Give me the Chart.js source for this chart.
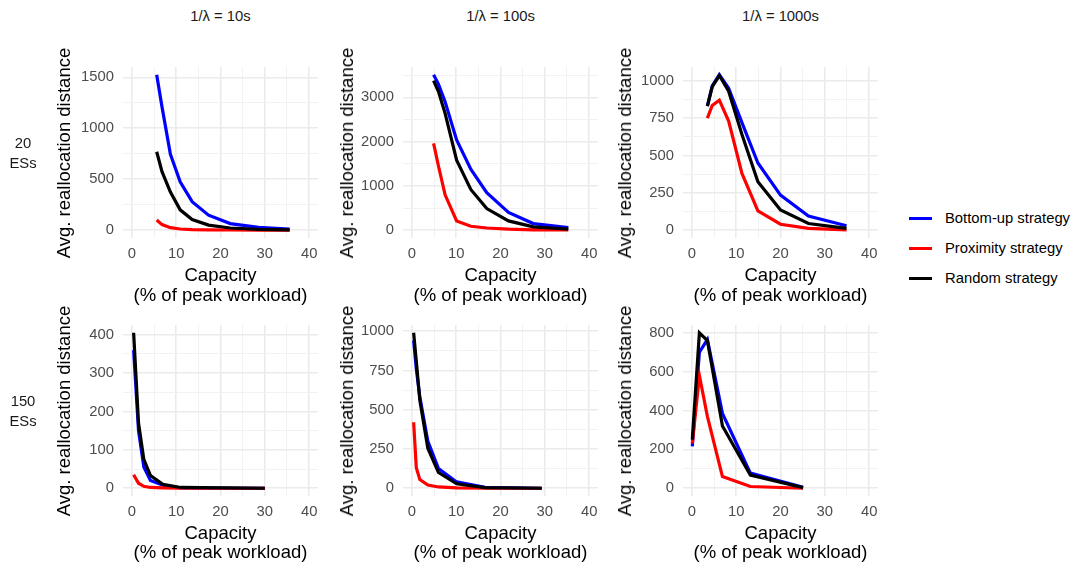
<!DOCTYPE html>
<html>
<head>
<meta charset="utf-8">
<script src="https://cdn.jsdelivr.net/npm/chart.js@4"></script>
<style>
body { margin: 0; background: #fff; font-family: "Liberation Sans", Arial, sans-serif; }
#wrap { position: relative; width: 1078px; height: 565px; overflow: hidden; }
canvas { position: absolute; }
.t { position: absolute; white-space: nowrap; color: #000; transform: translate(-50%, -50%); text-align: center; }
.leg { position: absolute; font-size: 14.8px; color: #000; }
.sw { position: absolute; height: 3px; width: 23px; }
</style>
</head>
<body>
<div id="wrap"></div>
<script>
// series names and facet labels
const strategies = ['Bottom-up strategy', 'Proximity strategy', 'Random strategy'];
const colLabels = ['1/λ = 10s', '1/λ = 100s', '1/λ = 1000s'];
const rowLabels = [['20', 'ESs'], ['150', 'ESs']];

// 20 ESs, 1/lambda = 10s
const cap20_10 = [5.6, 6.8, 8.7, 10.9, 13.6, 17.3, 22.2, 28.6, 35.6];
const bottomUp20_10 = [1525, 1210, 745, 475, 280, 148, 65, 28, 10];
const proximity20_10 = [100, 55, 25, 12, 6, 3, 2, 1, 0];
const random20_10 = [770, 575, 375, 200, 105, 50, 22, 8, 3];

// 20 ESs, 1/lambda = 100s
const cap20_100 = [4.9, 6.0, 7.5, 10.1, 13.3, 16.9, 21.8, 27.4, 35.3];
const bottomUp20_100 = [3510, 3300, 2900, 2040, 1380, 850, 400, 150, 60];
const proximity20_100 = [1960, 1450, 800, 210, 90, 50, 25, 10, 5];
const random20_100 = [3380, 3130, 2640, 1580, 920, 490, 210, 75, 25];

// 20 ESs, 1/lambda = 1000s
const cap20_1000 = [3.5, 4.6, 6.2, 8.3, 11.3, 14.9, 20.0, 26.3, 34.9];
const bottomUp20_1000 = [830, 965, 1040, 950, 720, 450, 235, 95, 30];
const proximity20_1000 = [750, 835, 870, 730, 380, 130, 40, 12, 2];
const random20_1000 = [830, 960, 1035, 930, 640, 325, 135, 45, 12];

// 150 ESs, 1/lambda = 10s
const cap150_10 = [0.4, 1.5, 2.7, 4.2, 7.0, 11.0, 30.0];
const bottomUp150_10 = [360, 150, 55, 20, 8, 1, 0];
const proximity150_10 = [35, 13, 5, 2, 1, 0, 0];
const random150_10 = [405, 170, 75, 33, 10, 2, 0];

// 150 ESs, 1/lambda = 100s
const cap150_100 = [0.4, 1.0, 1.8, 3.6, 6.0, 10.1, 16.5, 29.3];
const bottomUp150_100 = [940, 760, 580, 300, 125, 40, 6, 0];
const proximity150_100 = [420, 130, 55, 20, 8, 2, 0, 0];
const random150_100 = [990, 810, 560, 255, 100, 28, 4, 0];

// 150 ESs, 1/lambda = 1000s
const cap150_1000 = [0.1, 1.7, 3.5, 6.9, 13.2, 25.1];
const bottomUp150_1000 = [215, 700, 765, 385, 78, 5];
const proximity150_1000 = [230, 580, 370, 60, 9, 0];
const random150_1000 = [250, 800, 760, 320, 68, 3];

const panels = [
  { row: 0, col: 0, x: cap20_10, s: [bottomUp20_10, proximity20_10, random20_10], step: 250, major: 500 },
  { row: 0, col: 1, x: cap20_100, s: [bottomUp20_100, proximity20_100, random20_100], step: 500, major: 1000 },
  { row: 0, col: 2, x: cap20_1000, s: [bottomUp20_1000, proximity20_1000, random20_1000], step: 125, major: 250 },
  { row: 1, col: 0, x: cap150_10, s: [bottomUp150_10, proximity150_10, random150_10], step: 50, major: 100 },
  { row: 1, col: 1, x: cap150_100, s: [bottomUp150_100, proximity150_100, random150_100], step: 125, major: 250 },
  { row: 1, col: 2, x: cap150_1000, s: [bottomUp150_1000, proximity150_1000, random150_1000], step: 100, major: 200 }
];

const colors = ['#0000ff', '#ff0000', '#000000'];
const order = [2, 1, 0];

// layout of the panel grid
const panelLeft = [123, 403, 683];
const panelTop = [67, 325];
const PW = 195, PH = 171;
const YW = 80, XH = 28, PADT = 4, PADR = 4;
const yTitleX = [63.5, 346.7, 625];

const wrap = document.getElementById('wrap');

function addText(txt, x, y, size, color) {
  const d = document.createElement('div');
  d.className = 't';
  d.textContent = txt;
  d.style.left = x + 'px';
  d.style.top = y + 'px';
  d.style.fontSize = size + 'px';
  if (color) d.style.color = color;
  wrap.appendChild(d);
  return d;
}

function stepTicks(lo, hi, step) {
  const out = [];
  for (let v = lo; v <= hi + 1e-9; v += step) out.push({ value: v });
  return out;
}

const tickFont = { family: '"Liberation Sans", Arial, sans-serif', size: 14.8 };

panels.forEach(p => {
  const L = panelLeft[p.col], T = panelTop[p.row];
  const cv = document.createElement('canvas');
  cv.width = YW + PW + PADR;
  cv.height = PADT + PH + XH;
  cv.style.left = (L - YW) + 'px';
  cv.style.top = (T - PADT) + 'px';
  wrap.appendChild(cv);

  let ymax = 0;
  p.s.forEach(a => a.forEach(v => { if (v > ymax) ymax = v; }));
  const pad = ymax * 0.05;

  new Chart(cv.getContext('2d'), {
    type: 'line',
    data: {
      datasets: p.s.map((vals, i) => ({
        label: strategies[i],
        data: vals.map((v, k) => ({ x: p.x[k], y: v })),
        borderColor: colors[i],
        backgroundColor: colors[i],
        borderWidth: 3.2,
        pointRadius: 0,
        tension: 0,
        order: order[i],
        borderCapStyle: 'butt'
      }))
    },
    options: {
      responsive: false,
      animation: false,
      layout: { padding: { top: PADT, right: PADR, left: 0, bottom: 0 } },
      plugins: { legend: { display: false }, tooltip: { enabled: false } },
      scales: {
        x: {
          type: 'linear', min: -2, max: 42,
          afterBuildTicks(s) { s.ticks = stepTicks(0, 40, 5); },
          afterFit(s) { s.height = XH; s.paddingLeft = 0; s.paddingRight = 0; },
          border: { display: false },
          grid: {
            drawTicks: false,
            color: c => c.tick.value % 10 === 0 ? '#ebebeb' : '#f2f2f2',
            lineWidth: c => c.tick.value % 10 === 0 ? 1.6 : 1
          },
          ticks: {
            autoSkip: false, maxRotation: 0,
            padding: 7, color: '#4d4d4d', font: tickFont,
            callback: v => v % 10 === 0 ? v : ''
          }
        },
        y: {
          type: 'linear', min: -pad, max: ymax + pad,
          afterBuildTicks(s) { s.ticks = stepTicks(0, ymax + pad, p.step); },
          afterFit(s) { s.width = YW; s.paddingTop = 0; s.paddingBottom = 0; },
          border: { display: false },
          grid: {
            drawTicks: false,
            color: c => c.tick.value % p.major === 0 ? '#ebebeb' : '#f2f2f2',
            lineWidth: c => c.tick.value % p.major === 0 ? 1.6 : 1
          },
          ticks: {
            autoSkip: false,
            padding: 9, color: '#4d4d4d', font: tickFont,
            callback: v => v % p.major === 0 ? v : ''
          }
        }
      }
    }
  });

  // axis titles
  const cx = L + PW / 2;
  const t1 = p.row === 0 ? 275 : 532.5;
  addText('Capacity', cx, t1, 18.5);
  addText('(% of peak workload)', cx, t1 + 19.5, 18.5);
  const yt = addText('Avg. reallocation distance', yTitleX[p.col], T + PH / 2, 18.5);
  yt.style.transform = 'translate(-50%, -50%) rotate(-90deg)';
});

// facet strips
colLabels.forEach((lab, c) => addText(lab, panelLeft[c] + PW / 2, 15.5, 14.8, '#1a1a1a'));
rowLabels.forEach((lab, r) => {
  const cy = panelTop[r] + PH / 2 - 10;
  addText(lab[0], 23, cy, 14.8, '#1a1a1a');
  addText(lab[1], 23, cy + 20, 14.8, '#1a1a1a');
});

// legend
const legY = [218, 248, 278];
strategies.forEach((name, i) => {
  const sw = document.createElement('div');
  sw.className = 'sw';
  sw.style.left = '909px';
  sw.style.top = (legY[i] - 1.5) + 'px';
  sw.style.background = colors[i];
  wrap.appendChild(sw);
  const t = document.createElement('div');
  t.className = 'leg';
  t.textContent = name;
  t.style.left = '945px';
  t.style.top = legY[i] + 'px';
  t.style.transform = 'translateY(-50%)';
  wrap.appendChild(t);
});
</script>
</body>
</html>
